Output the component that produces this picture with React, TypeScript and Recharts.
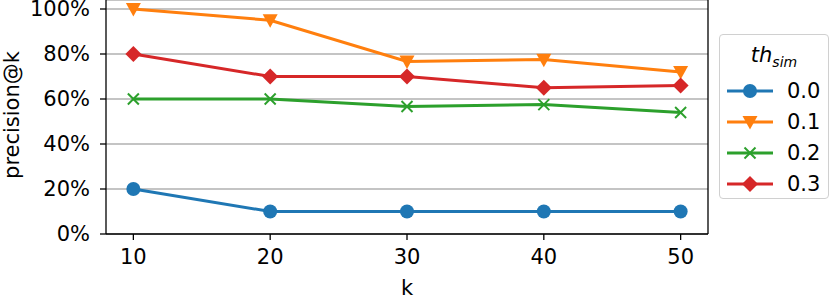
import { LineChart, Line, XAxis, YAxis, CartesianGrid, ReferenceLine } from "recharts";

const kValues = [10, 20, 30, 40, 50];
const th00 = [0.2, 0.1, 0.1, 0.1, 0.1];
const th01 = [1.0, 0.95, 0.767, 0.775, 0.72];
const th02 = [0.6, 0.6, 0.567, 0.575, 0.54];
const th03 = [0.8, 0.7, 0.7, 0.65, 0.66];
const yTicks = [0, 0.2, 0.4, 0.6, 0.8, 1.0];

const FONT = "'DejaVu Sans', sans-serif";
const FS = 21;

const data = kValues.map((k, i) => ({ k, s0: th00[i], s1: th01[i], s2: th02[i], s3: th03[i] }));

type MarkerKind = "circle" | "tri" | "cross" | "diamond";

const series: { key: string; label: string; color: string; marker: MarkerKind }[] = [
  { key: "s0", label: "0.0", color: "#1f77b4", marker: "circle" },
  { key: "s1", label: "0.1", color: "#ff7f0e", marker: "tri" },
  { key: "s2", label: "0.2", color: "#2ca02c", marker: "cross" },
  { key: "s3", label: "0.3", color: "#d62728", marker: "diamond" },
];

function Marker({ kind, cx, cy, color }: { kind: MarkerKind; cx: number; cy: number; color: string }) {
  if (kind === "circle") return <circle cx={cx} cy={cy} r={7} fill={color} />;
  if (kind === "tri")
    return <polygon points={`${cx - 7.5},${cy - 6} ${cx + 7.5},${cy - 6} ${cx},${cy + 7.5}`} fill={color} />;
  if (kind === "diamond")
    return <polygon points={`${cx},${cy - 8} ${cx + 8},${cy} ${cx},${cy + 8} ${cx - 8},${cy}`} fill={color} />;
  return (
    <g stroke={color} strokeWidth={2}>
      <line x1={cx - 5.5} y1={cy - 5.5} x2={cx + 5.5} y2={cy + 5.5} />
      <line x1={cx - 5.5} y1={cy + 5.5} x2={cx + 5.5} y2={cy - 5.5} />
    </g>
  );
}

function LegendBox() {
  return (
    <div
      style={{
        position: "absolute",
        left: 719,
        top: 34,
        width: 110,
        height: 165,
        border: "1px solid #d0d0d0",
        borderRadius: 4,
        background: "#fff",
        fontFamily: FONT,
        boxSizing: "border-box",
      }}
    >
      <div style={{ textAlign: "center", fontSize: FS, fontStyle: "italic", marginTop: 4, height: 36, lineHeight: "32px" }}>
        th<sub style={{ fontSize: 14 }}>sim</sub>
      </div>
      {series.map((s) => (
        <div key={s.key} style={{ display: "flex", alignItems: "center", height: 31 }}>
          <svg width={62} height={20} style={{ marginLeft: 5 }}>
            <line x1={2} y1={10} x2={48} y2={10} stroke={s.color} strokeWidth={3} />
            <Marker kind={s.marker} cx={25} cy={10} color={s.color} />
          </svg>
          <span style={{ fontSize: FS }}>{s.label}</span>
        </div>
      ))}
    </div>
  );
}

export default function App() {
  return (
    <div style={{ position: "absolute", left: 0, top: 0, width: 831, height: 300, background: "#fff" }}>
      <LineChart width={831} height={300} data={data} margin={{ top: 0, right: 123, bottom: 0, left: 0 }}>
        <CartesianGrid vertical={false} stroke="#b0b0b0" strokeWidth={1.3} />
        <XAxis
          dataKey="k"
          type="number"
          domain={[8, 52]}
          ticks={kValues}
          interval={0}
          height={66}
          tickSize={6}
          tickMargin={9}
          stroke="#000"
          strokeWidth={1.3}
          tick={{ fill: "#000", fontSize: FS, fontFamily: FONT }}
          label={{ value: "k", position: "insideBottom", offset: 5, fill: "#000", fontSize: FS, fontFamily: FONT }}
        />
        <YAxis
          type="number"
          domain={[0, 1.04]}
          ticks={yTicks}
          interval={0}
          width={106}
          tickSize={6}
          tickMargin={10}
          stroke="#000"
          strokeWidth={1.3}
          tickFormatter={(v: number) => `${Math.round(v * 100)}%`}
          tick={{ fill: "#000", fontSize: FS, fontFamily: FONT }}
          label={{
            content: ({ viewBox }: any) => {
              const x = viewBox.x + 12;
              const y = viewBox.y + viewBox.height / 2 - 2;
              return (
                <text
                  x={x}
                  y={y}
                  transform={`rotate(-90 ${x} ${y})`}
                  textAnchor="middle"
                  dominantBaseline="central"
                  fontSize={FS}
                  fontFamily={FONT}
                  fill="#000"
                >
                  precision@k
                </text>
              );
            },
          }}
        />
        <ReferenceLine x={52} stroke="#000" strokeWidth={1.3} />
        {series.map((s) => (
          <Line
            key={s.key}
            dataKey={s.key}
            stroke={s.color}
            strokeWidth={3}
            isAnimationActive={false}
            dot={(p: any) => <Marker key={`${s.key}-${p.index}`} kind={s.marker} cx={p.cx} cy={p.cy} color={s.color} />}
            activeDot={false}
          />
        ))}
      </LineChart>
      <LegendBox />
    </div>
  );
}
